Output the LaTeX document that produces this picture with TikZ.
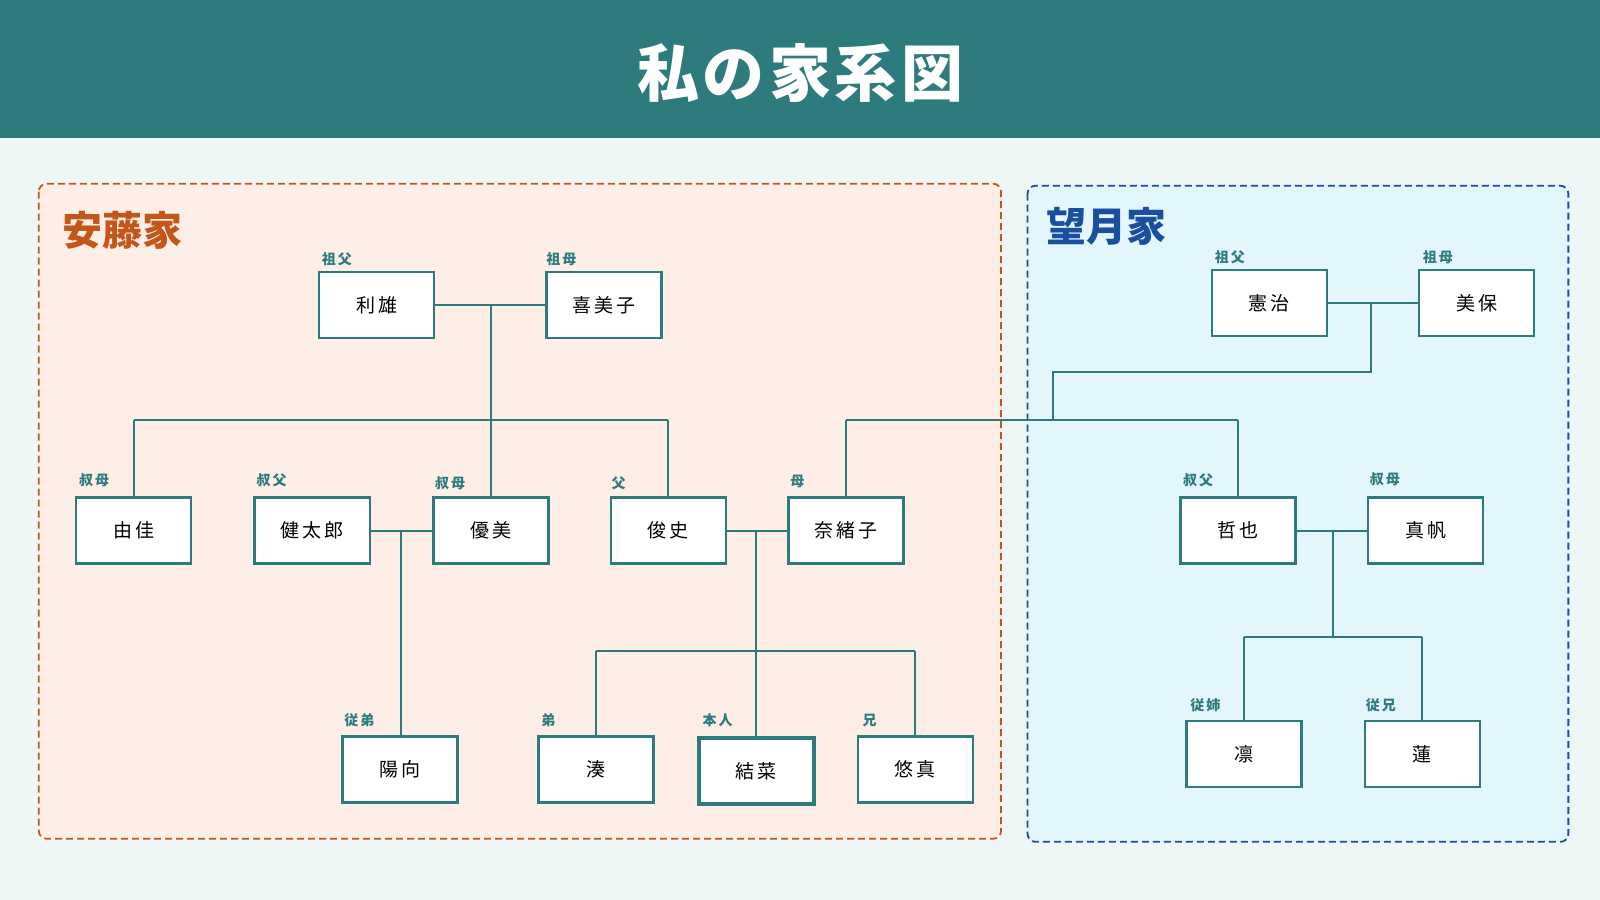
\documentclass[tikz,border=0pt]{standalone}
\usepackage{fontspec}
\setmainfont{Noto Sans CJK JP}
\newfontfamily\jpb{Noto Sans CJK JP}[BoldFont=*, FakeBold=0]
\begin{document}
\definecolor{teal1}{HTML}{2E7B7E}
\definecolor{bgc}{HTML}{EEF7F6}
\definecolor{ora}{HTML}{C4561A}
\definecolor{orafill}{HTML}{FDEFE8}
\definecolor{blu}{HTML}{1A4E9E}
\definecolor{blufill}{HTML}{E2F6FB}
\begin{tikzpicture}[x=1.0204pt,y=-1.0204pt,
  p/.style={draw=teal1,line width=2.5pt,fill=white,minimum width=115pt,minimum height=66pt,inner sep=0pt,font=\fontsize{19}{19}\selectfont},
  me/.style={p,line width=4pt},
  role/.style={anchor=west,text=teal1,font=\bfseries\fontsize{14}{14}\selectfont},
  ln/.style={draw=teal1,line width=2pt}]
\useasboundingbox (0,0) rectangle (1568,882);
\fill[bgc] (0,0) rectangle (1568,882);
\fill[teal1] (0,0) rectangle (1568,135);
\node[text=white,font=\bfseries\fontsize{62}{62}\selectfont] (title) at (784,72) {私\hspace{4pt}の\hspace{4pt}家\hspace{4pt}系\hspace{4pt}図};
\draw[ora,fill=orafill,line width=1.8pt,dash pattern=on 7pt off 4pt,rounded corners=8pt] (38,180) rectangle (981,822);
\draw[blu,fill=blufill,line width=1.8pt,dash pattern=on 7pt off 4pt,rounded corners=8pt] (1007,182) rectangle (1537,825);
\node[anchor=west,text=ora,font=\bfseries\fontsize{40}{40}\selectfont] (fa) at (58,226) {安藤家};
\node[anchor=west,text=blu,font=\bfseries\fontsize{40}{40}\selectfont] (fb) at (1022,222) {望月家};
% coordinates
\coordinate (m1) at (481,299); \coordinate (j1) at (481,412);
\coordinate (h1l) at (131,412); \coordinate (h1r) at (655,412);
\coordinate (m2) at (393,520); \coordinate (m3) at (741,520); \coordinate (j3) at (741,638);
\coordinate (h3l) at (584,638); \coordinate (h3r) at (897,638);
\coordinate (m4) at (1344,297); \coordinate (k1) at (1344,365); \coordinate (k2) at (1032,365); \coordinate (k3) at (1032,412);
\coordinate (h4l) at (829,412); \coordinate (h4r) at (1213,412);
\coordinate (m5) at (1306,520); \coordinate (j5) at (1306,624);
\coordinate (h5l) at (1219,624); \coordinate (h5r) at (1394,624);
% connectors
\draw[ln] (m1) -- (j1); \draw[ln] (h1l) -- (h1r);
\draw[ln] (m2) -- (393,720);
\draw[ln] (m3) -- (741,722); \draw[ln] (h3l) -- (h3r);
\draw[ln] (m4) -- (k1) -- (k2) -- (k3); \draw[ln] (h4l) -- (h4r);
\draw[ln] (m5) -- (j5); \draw[ln] (h5l) -- (h5r);
\draw[ln] (h1l) -- (131,487); \draw[ln] (j1) -- (481,487); \draw[ln] (h1r) -- (655,487);
\draw[ln] (h3l) -- (584,721); \draw[ln] (h3r) -- (897,721);
\draw[ln] (h4l) -- (829,487); \draw[ln] (h4r) -- (1213,487);
\draw[ln] (h5l) -- (1219,706); \draw[ln] (h5r) -- (1394,706);
% people
\node[p] (toshio) at (369,299) {利\hspace{3pt}雄};
\node[p] (kimiko) at (592,299) {喜\hspace{3pt}美\hspace{3pt}子};
\draw[ln] (toshio) -- (kimiko);
\node[p] (yuka) at (131,520) {由\hspace{3pt}佳};
\node[p] (kentaro) at (306,520) {健\hspace{3pt}太\hspace{3pt}郎};
\node[p] (yumi) at (481,520) {優\hspace{3pt}美};
\node[p] (shunji) at (655,520) {俊\hspace{3pt}史};
\node[p] (naoko) at (829,520) {奈\hspace{3pt}緒\hspace{3pt}子};
\draw[ln] (kentaro) -- (yumi); \draw[ln] (shunji) -- (naoko);
\node[p] (hinata) at (392,754) {陽\hspace{3pt}向};
\node[p] (minato) at (584,754) {湊};
\node[me] (yuina) at (741,756) {結\hspace{3pt}菜};
\node[p] (yuma) at (897,754) {悠\hspace{3pt}真};
\node[p] (kenji) at (1244,297) {憲\hspace{3pt}治};
\node[p] (miho) at (1447,297) {美\hspace{3pt}保};
\draw[ln] (kenji) -- (miho);
\node[p] (tetsuya) at (1213,520) {哲\hspace{3pt}也};
\node[p] (maho) at (1397,520) {真\hspace{3pt}帆};
\draw[ln] (tetsuya) -- (maho);
\node[p] (rin) at (1219,739) {凛};
\node[p] (ren) at (1394,739) {蓮};
% roles
\node[role] (r1) at (312,254) {祖\hspace{2pt}父};
\node[role] (r2) at (532,254) {祖\hspace{2pt}母};
\node[role] (r3) at (74,471) {叔\hspace{2pt}母};
\node[role] (r4) at (248,471) {叔\hspace{2pt}父};
\node[role] (r5) at (423,474) {叔\hspace{2pt}母};
\node[role] (r6) at (596,474) {父};
\node[role] (r7) at (771,472) {母};
\node[role] (r8) at (334,706) {従\hspace{2pt}弟};
\node[role] (r9) at (527,706) {弟};
\node[role] (r10) at (685,706) {本\hspace{2pt}人};
\node[role] (r11) at (842,706) {兄};
\node[role] (r12) at (1187,252) {祖\hspace{2pt}父};
\node[role] (r13) at (1391,252) {祖\hspace{2pt}母};
\node[role] (r14) at (1156,471) {叔\hspace{2pt}父};
\node[role] (r15) at (1339,470) {叔\hspace{2pt}母};
\node[role] (r16) at (1163,691) {従\hspace{2pt}姉};
\node[role] (r17) at (1335,691) {従\hspace{2pt}兄};
\end{tikzpicture}
\end{document}
